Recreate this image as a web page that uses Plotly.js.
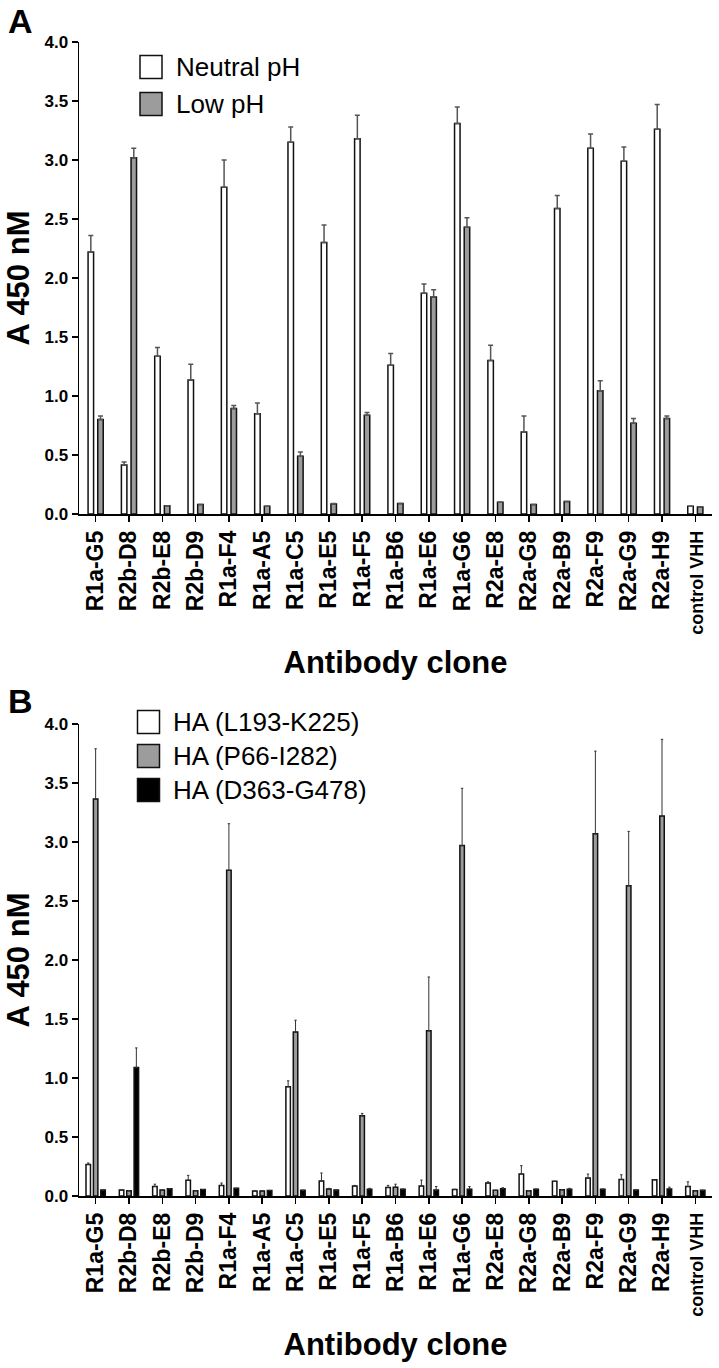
<!DOCTYPE html>
<html>
<head>
<meta charset="utf-8">
<script src="https://cdn.plot.ly/plotly-3.0.1.min.js"></script>
<style>html,body{margin:0;padding:0;background:#fff;}#chart{width:719px;height:1368px;}</style>
</head>
<body>
<div id="chart"></div>
<script>
// ---- data ----
var clones = ['R1a-G5','R2b-D8','R2b-E8','R2b-D9','R1a-F4','R1a-A5','R1a-C5','R1a-E5','R1a-F5','R1a-B6','R1a-E6','R1a-G6','R2a-E8','R2a-G8','R2a-B9','R2a-F9','R2a-G9','R2a-H9','control VHH'];

// Panel A
var neutralPH    = [2.22,0.415,1.336,1.135,2.77,0.85,3.15,2.30,3.18,1.26,1.87,3.31,1.30,0.695,2.59,3.10,2.99,3.26,0.065];
var neutralPHErr = [0.14,0.025,0.074,0.135,0.23,0.09,0.13,0.15,0.20,0.10,0.08,0.14,0.13,0.135,0.11,0.12,0.12,0.21,0];
var lowPH        = [0.80,3.02,0.07,0.08,0.895,0.065,0.49,0.085,0.836,0.09,1.84,2.43,0.10,0.08,0.105,1.045,0.77,0.81,0.06];
var lowPHErr     = [0.03,0.08,0,0,0.025,0,0.035,0.005,0.025,0,0.06,0.08,0,0,0,0.085,0.04,0.02,0];

// Panel B
var haL193    = [0.268,0.05,0.08,0.133,0.09,0.043,0.926,0.127,0.085,0.073,0.085,0.056,0.11,0.186,0.124,0.152,0.14,0.137,0.08];
var haL193Err = [0.012,0,0.02,0.042,0.02,0,0.05,0.068,0.005,0.017,0.05,0,0.01,0.071,0,0.034,0.04,0,0.04];
var haP66     = [3.364,0.045,0.05,0.045,2.76,0.043,1.39,0.06,0.68,0.075,1.40,2.97,0.048,0.045,0.054,3.07,2.63,3.22,0.045];
var haP66Err  = [0.426,0,0,0,0.395,0,0.10,0.005,0.02,0.025,0.456,0.485,0,0,0,0.70,0.46,0.65,0];
var haD363    = [0.05,1.09,0.062,0.055,0.065,0.047,0.048,0.05,0.058,0.058,0.05,0.058,0.062,0.058,0.058,0.058,0.05,0.06,0.048];
var haD363Err = [0,0.165,0,0,0,0,0,0,0.007,0,0.03,0.022,0.008,0,0.007,0,0,0.015,0];

var tickLabels = clones.slice();
var yTicks = [0,0.5,1,1.5,2,2.5,3,3.5,4];
var legendA = ['Neutral pH','Low pH'];
var legendB = ['HA (L193-K225)','HA (P66-I282)','HA (D363-G478)'];

// ---- styling ----
var W = 719, H = 1368;
function px(x){ return x / W; }
function py(y){ return 1 - y / H; }
var FONT = 'Liberation Sans, Arial, Helvetica, sans-serif';
var WHITE = '#ffffff', GREY = '#9c9c9c', BLACK = '#000000';
var zeros = clones.map(function(){ return 0; });
// control label is set a little smaller than the clone names, as in the original
var tickText = tickLabels.map(function(t, i){
  return i === tickLabels.length - 1 ? '<span style="font-size:18px">' + t + '</span>' : t;
});

function barTrace(y, err, fill, xa, ya, width, offset, errColor, errThick, errW){
  return {
    type: 'bar', x: clones, y: y, xaxis: xa, yaxis: ya,
    width: width, offset: offset,
    marker: {color: fill, line: {color: '#111', width: 1.5}},
    error_y: {type: 'data', symmetric: false, array: err, arrayminus: zeros,
              color: errColor, thickness: errThick, width: errW},
    showlegend: false, hoverinfo: 'skip'
  };
}

var data = [
  barTrace(neutralPH, neutralPHErr, WHITE, 'x', 'y', 0.165, -0.2275, '#555', 1.5, 2.5),
  barTrace(lowPH, lowPHErr, GREY, 'x', 'y', 0.165, 0.0625, '#555', 1.5, 2.5),
  barTrace(haL193, haL193Err, WHITE, 'x2', 'y2', 0.135, -0.29, '#333', 1, 1.2),
  barTrace(haP66, haP66Err, GREY, 'x2', 'y2', 0.135, -0.068, '#333', 1, 1.2),
  barTrace(haD363, haD363Err, BLACK, 'x2', 'y2', 0.135, 0.154, '#333', 1, 1.2)
];

function xAxis(anchor){
  return {
    domain: [px(79), px(712)], anchor: anchor, type: 'category',
    range: [-0.5, 18.5], fixedrange: true,
    showline: true, linecolor: '#000', linewidth: 1.5,
    ticks: 'outside', ticklen: 6, tickwidth: 1.5, tickcolor: '#000',
    tickangle: -90, tickfont: {family: FONT, size: 23, color: '#000', weight: 'bold'},
    tickmode: 'array', tickvals: clones, ticktext: tickText,
    showgrid: false, zeroline: false,
    title: {text: 'Antibody clone', font: {family: FONT, size: 31, color: '#000', weight: 'bold'}, standoff: 17}
  };
}
function yAxis(anchor, top, bottom){
  return {
    domain: [py(bottom), py(top)], anchor: anchor,
    range: [0, 4], fixedrange: true,
    showline: true, linecolor: '#000', linewidth: 1.5,
    ticks: 'outside', ticklen: 6, tickwidth: 1.5, tickcolor: '#000',
    tickmode: 'array', tickvals: yTicks, tickformat: '.1f',
    tickfont: {family: FONT, size: 17, color: '#000', weight: 'bold'},
    showgrid: false, zeroline: false,
    title: {text: 'A 450 nM', font: {family: FONT, size: 31, color: '#000', weight: 'bold'}, standoff: 5}
  };
}

var shapes = [], annotations = [];
function legendItem(x0, yc, fill, label, textX){
  shapes.push({type: 'rect', xref: 'paper', yref: 'paper',
    x0: px(x0), x1: px(x0 + 22), y0: py(yc + 11.5), y1: py(yc - 11.5),
    fillcolor: fill, line: {color: '#111', width: 1.5}});
  annotations.push({xref: 'paper', yref: 'paper', x: px(textX), y: py(yc),
    xanchor: 'left', yanchor: 'middle', showarrow: false, text: label,
    font: {family: FONT, size: 26, color: '#000'}});
}
legendItem(140, 67, WHITE, legendA[0], 174);
legendItem(140, 104, GREY, legendA[1], 174);
legendItem(137.5, 722, WHITE, legendB[0], 171);
legendItem(137.5, 756, GREY, legendB[1], 171);
legendItem(137.5, 790, BLACK, legendB[2], 171);

annotations.push({xref: 'paper', yref: 'paper', x: px(20), y: py(21), xanchor: 'center', yanchor: 'middle',
  showarrow: false, text: 'A', font: {family: FONT, size: 34, color: '#000', weight: 'bold'}});
annotations.push({xref: 'paper', yref: 'paper', x: px(20), y: py(701), xanchor: 'center', yanchor: 'middle',
  showarrow: false, text: 'B', font: {family: FONT, size: 34, color: '#000', weight: 'bold'}});

var layout = {
  width: W, height: H, margin: {l: 0, r: 0, t: 0, b: 0, pad: 0},
  paper_bgcolor: '#fff', plot_bgcolor: '#fff', showlegend: false,
  barmode: 'group',
  font: {family: FONT, color: '#000'},
  xaxis: xAxis('y'), yaxis: yAxis('x', 42, 514),
  xaxis2: xAxis('y2'), yaxis2: yAxis('x2', 724, 1196),
  shapes: shapes, annotations: annotations
};

Plotly.newPlot('chart', data, layout, {staticPlot: true, displayModeBar: false});
</script>
</body>
</html>
